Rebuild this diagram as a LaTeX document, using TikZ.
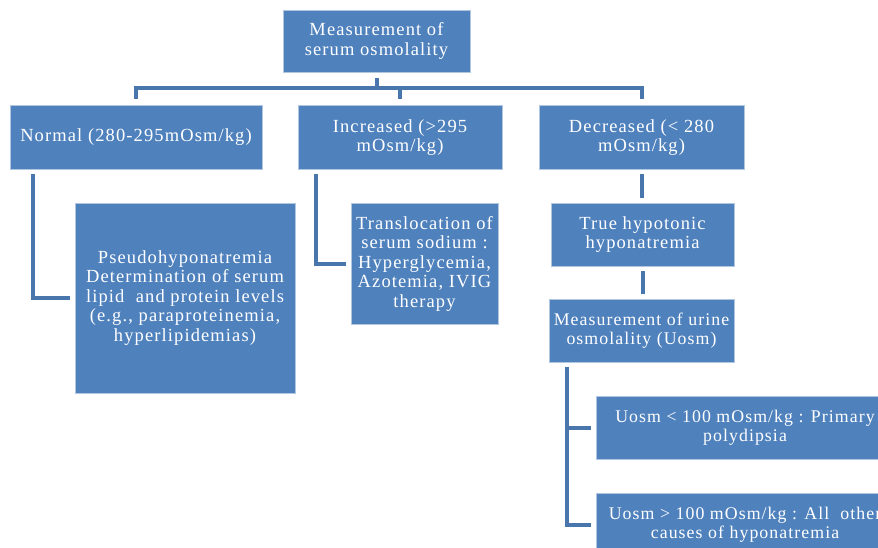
\documentclass[tikz,border=0pt]{standalone}
\usepackage{fontspec}
\setmainfont[LetterSpace=6]{Liberation Serif}
\definecolor{boxblue}{HTML}{4F81BD}
\definecolor{linkblue}{HTML}{4A76AE}
\begin{document}
\begin{tikzpicture}[x=1pt,y=-1pt,
  box/.style={draw=white!55!boxblue,line width=0.8pt,fill=boxblue,text=white,
    align=center,inner sep=0pt,outer sep=0pt,
    font=\fontsize{18.5}{19.5}\selectfont},
  smallbox/.style={box,font=\fontsize{17.8}{19.5}\selectfont},
  link/.style={draw=linkblue,line width=4pt}]
  \useasboundingbox (0,0) rectangle (878,548);
  \clip (0,0) rectangle (878,548);
  \node[box,minimum width=187pt,minimum height=62pt] (top) at (376.5,41) {Measurement of\\serum osmolality};
  \node[box,minimum width=252pt,minimum height=64pt] (normal) at (136,137.5) {Normal (280-295mOsm/kg)};
  \node[box,minimum width=204pt,minimum height=64pt] (incr) at (400,137.5) {Increased (>295\\mOsm/kg)};
  \node[box,minimum width=205pt,minimum height=64pt] (decr) at (641.5,137.5) {Decreased (< 280\\mOsm/kg)};
  \node[box,minimum width=220pt,minimum height=190pt] (pseudo) at (185,298) {Pseudohyponatremia\\Determination of serum\\lipid\ \ and protein levels\\(e.g., paraproteinemia,\\hyperlipidemias)};
  \node[box,minimum width=147pt,minimum height=121pt] (transl) at (424.5,263.5) {Translocation of\\serum sodium :\\Hyperglycemia,\\Azotemia, IVIG\\therapy};
  \node[box,minimum width=183pt,minimum height=63pt] (true) at (642.5,234.5) {True hypotonic\\hyponatremia};
  \node[smallbox,minimum width=185pt,minimum height=63pt] (urine) at (641.5,330.5) {Measurement of urine\\osmolality (Uosm)};
  \node[smallbox,minimum width=298pt,minimum height=63pt] (ulow) at (745,427.5) {Uosm < 100 mOsm/kg : Primary\\polydipsia};
  \node[smallbox,minimum width=298pt,minimum height=63pt] (uhigh) at (745,524.5) {Uosm > 100 mOsm/kg : All\ \ other\\causes of hyponatremia};
  \draw[link] ([yshift=-6pt]top.south) -- ([yshift=-16pt]top.south) coordinate (bar);
  \foreach \k in {normal,incr,decr}
    \draw[link] (bar) -| ([yshift=6pt]\k.north);
  \draw[link] ([xshift=23pt,yshift=-5pt]normal.south west) |- ([xshift=-5pt]pseudo.west);
  \draw[link] ([xshift=18pt,yshift=-5pt]incr.south west) |- ([xshift=-5pt]transl.west);
  \draw[link] ([yshift=-5pt]decr.south) -- ([yshift=5pt]decr.south |- true.north);
  \draw[link] ([yshift=-5pt]true.south) -- ([yshift=5pt]true.south |- urine.north);
  \foreach \k in {ulow,uhigh}
    \draw[link] ([xshift=18pt,yshift=-5pt]urine.south west) |- ([xshift=-5pt]\k.west);
\end{tikzpicture}
\end{document}
